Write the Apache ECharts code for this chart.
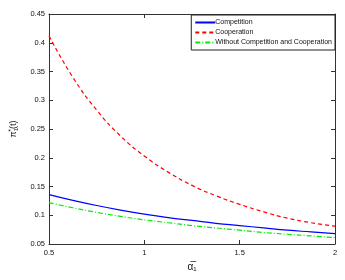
<!DOCTYPE html>
<html><head><meta charset="utf-8">
<script src="https://cdn.jsdelivr.net/npm/echarts@6/dist/echarts.min.js"></script>
<style>html,body{margin:0;padding:0;background:#fff}#c{width:345px;height:280px}</style>
</head><body><div id="c"></div>
<script>
var alpha = [0.5, 0.625, 0.75, 0.875, 1.0, 1.125, 1.25, 1.375, 1.5, 1.625, 1.75, 1.875, 2.0];
var competition = [0.136, 0.126, 0.117, 0.109, 0.102, 0.096, 0.091, 0.086, 0.082, 0.078, 0.074, 0.071, 0.068];
var cooperation = [0.412, 0.340, 0.283, 0.238, 0.203, 0.175, 0.152, 0.134, 0.119, 0.106, 0.095, 0.087, 0.081];
var without = [0.122, 0.113, 0.105, 0.098, 0.092, 0.087, 0.082, 0.078, 0.074, 0.070, 0.067, 0.064, 0.061];
var seriesNames = ['Competition', 'Cooperation', 'Without Competition and Cooperation'];
var xTicks = [0.5, 1, 1.5, 2];

function pairs(v){ return alpha.map(function(a,i){ return [a, v[i]]; }); }
var font = 'Liberation Sans, Arial, sans-serif';
var chart = echarts.init(document.getElementById('c'));
var axisLine = {show:true, lineStyle:{color:'#333', width:1}};
chart.setOption({
  animation:false,
  backgroundColor:'#fff',
  grid:{left:38, right:10, top:14, bottom:36, show:false},
  legend:{
    orient:'vertical', right:10, top:15,
    backgroundColor:'#fff', borderColor:'#222', borderWidth:1,
    padding:[4,3,4,3], itemGap:3, itemWidth:20, itemHeight:8,
    itemStyle:{opacity:0},
    textStyle:{fontSize:7, fontFamily:font, color:'#111', padding:[0,0,0,-5]},
    data:seriesNames
  },
  xAxis:[{
    type:'value', min:0.5, max:2, interval:0.5,
    axisLine:axisLine, axisTick:{inside:true, length:4, lineStyle:{color:'#333'}},
    splitLine:{show:false},
    axisLabel:{fontSize:7.5, fontFamily:font, color:'#111', margin:5,
      formatter:function(v){ return xTicks.indexOf(v)>=0 ? String(v) : ''; }},
    name:'α̅₁', nameLocation:'middle', nameGap:18,
    nameTextStyle:{fontSize:10, fontFamily:font, color:'#111'}
  },{
    type:'value', min:0.5, max:2, interval:0.5, position:'top',
    axisLine:axisLine, axisTick:{inside:true, length:4, lineStyle:{color:'#333'}},
    axisLabel:{show:false}, splitLine:{show:false}
  }],
  yAxis:[{
    type:'value', min:0.05, max:0.45, interval:0.05,
    axisLine:axisLine, axisTick:{inside:true, length:4, lineStyle:{color:'#333'}},
    splitLine:{show:false},
    axisLabel:{fontSize:7.5, fontFamily:font, color:'#111', margin:4},
    name:'{p|π}{s|1}{u|*}{p|(t)}', nameLocation:'middle', nameGap:25, nameRotate:90,
    nameTextStyle:{fontFamily:font, color:'#111', rich:{
      p:{fontSize:9, fontFamily:font, color:'#111'},
      s:{fontSize:6, fontFamily:font, color:'#111', padding:[5,0,0,0]},
      u:{fontSize:7, fontFamily:font, color:'#111', padding:[0,0,5,-4]}
    }}
  },{
    type:'value', min:0.05, max:0.45, interval:0.05, position:'right',
    axisLine:axisLine, axisTick:{inside:true, length:4, lineStyle:{color:'#333'}},
    axisLabel:{show:false}, splitLine:{show:false}
  }],
  series:[
    {name:seriesNames[0], type:'line', smooth:true, showSymbol:false, symbol:'none',
     data:pairs(competition), lineStyle:{color:'#0000ff', width:1.2}, itemStyle:{color:'#0000ff'}},
    {name:seriesNames[1], type:'line', smooth:true, showSymbol:false, symbol:'none',
     data:pairs(cooperation), lineStyle:{color:'#ff0000', width:1.2, type:[4,3]}, itemStyle:{color:'#ff0000'}},
    {name:seriesNames[2], type:'line', smooth:true, showSymbol:false, symbol:'none',
     data:pairs(without), lineStyle:{color:'#00ee00', width:1.2, type:[5,2,1,2]}, itemStyle:{color:'#00ee00'}}
  ]
});
</script></body></html>
